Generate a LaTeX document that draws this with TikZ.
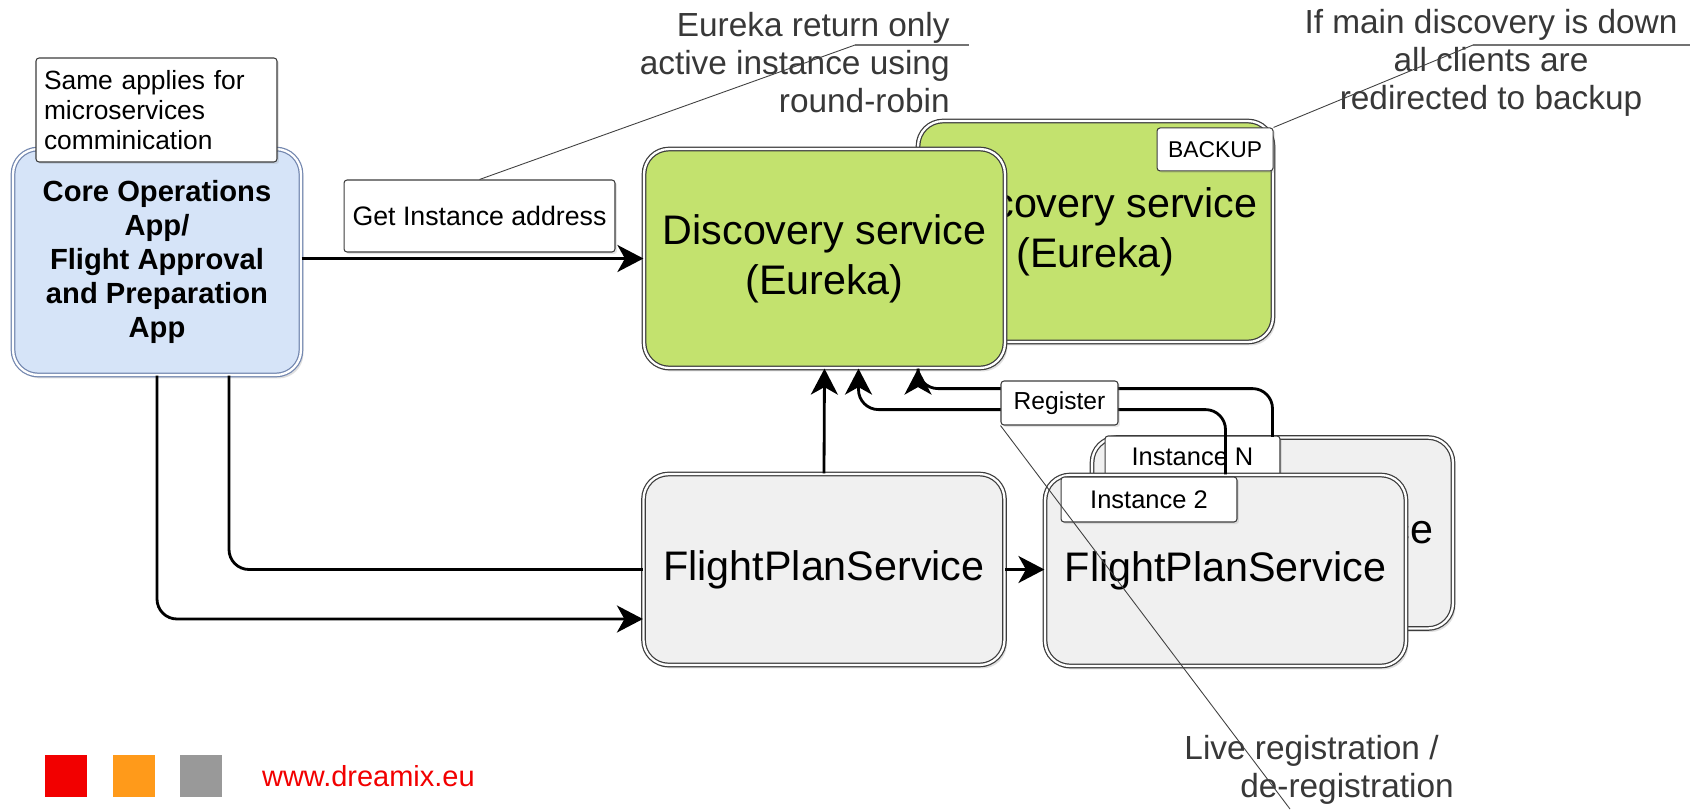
\documentclass[tikz,border=0pt]{standalone}
\usepackage{fontspec}
\setmainfont{Liberation Sans}
\usetikzlibrary{arrows.meta,positioning,calc,shadows}
\definecolor{coreblue}{RGB}{214,228,248}
\definecolor{coreedge}{RGB}{115,135,175}
\definecolor{discgreen}{RGB}{195,226,110}
\definecolor{svcgrey}{RGB}{240,240,240}
\definecolor{edgegrey}{RGB}{60,60,60}
\definecolor{dmxred}{RGB}{242,0,0}
\definecolor{dmxorange}{RGB}{255,154,26}
\definecolor{dmxgrey}{RGB}{153,153,153}
\tikzset{
  >={Stealth[length=5.2mm, width=5.4mm, inset=1.5mm]},
  box/.style={draw=edgegrey, double=white, double distance=1.3pt, line width=0.7pt, rounded corners=5mm, align=center, inner sep=0pt, drop shadow={opacity=0.25, shadow xshift=0.5mm, shadow yshift=-0.7mm}},
  app/.style={box, draw=coreedge, fill=coreblue, minimum width=5.76cm, minimum height=4.52cm, font=\bfseries\fontsize{16.6}{19.4}\selectfont},
  disco/.style={box, fill=discgreen, minimum width=7.2cm, minimum height=4.4cm, font=\fontsize{23.5}{28.5}\selectfont},
  svc/.style={box, fill=svcgrey, minimum width=7.22cm, minimum height=3.82cm, font=\fontsize{23.5}{28.5}\selectfont},
  tag/.style={draw=edgegrey, fill=white, rounded corners=0.6mm, line width=0.6pt, inner sep=0pt, minimum height=0.86cm, font=\fontsize{14.5}{17}\selectfont, drop shadow={opacity=0.2, shadow xshift=0.4mm, shadow yshift=-0.4mm}},
  remark/.style={align=right, inner sep=0pt, text=black!78, font=\fontsize{19}{21.6}\selectfont},
  flow/.style={->, line width=1.6pt, rounded corners=4mm},
  leader/.style={line width=0.5pt, black!75},
  underl/.style={line width=1pt, black!55},
  sq/.style={minimum size=8.4mm, inner sep=0pt},
}
\begin{document}
\begin{tikzpicture}[x=0.02cm, y=-0.02cm]
  \useasboundingbox[fill=white] (0,0) rectangle (1698,809);
  \node[app] (core) at (157,262) {Core Operations\\App/\\Flight Approval\\and Preparation\\App};
  \node[tag, text width=4.5cm, align=left, inner sep=1.6mm, minimum height=2.08cm, font=\fontsize{15}{17.2}\selectfont] (note) at (156.5,110) {Same applies for\\microservices\\comminication};
  \node[disco, minimum width=7.1cm, minimum height=4.42cm] (backup) at (1095.5,231.5) {Discovery service\\(Eureka)};
  \node[tag, anchor=north east, minimum width=2.32cm, font=\fontsize{13}{15}\selectfont] (backuptag) at ($(backup.north east)+(0,7)$) {BACKUP};
  \node[disco, minimum width=7.22cm, minimum height=4.38cm] (disc) at (824.5,258.5) {Discovery service\\(Eureka)};
  \node[tag, minimum width=5.42cm, minimum height=1.44cm, font=\fontsize{15.2}{18}\selectfont] (getaddr) at (479.5,216) {Get Instance address};
  \node[svc] (fps) at (824,569.5) {FlightPlanService};
  \node[svc] (fpsn) at (1272.5,533) {FlightPlanService};
  \node[tag, minimum width=3.5cm, minimum height=0.82cm] (instn) at (1192.5,456.5) {Instance N};
  \node[svc] (fpstwo) at (1225.5,570.5) {FlightPlanService};
  \node[tag, minimum width=3.52cm, minimum height=0.9cm] (insttwo) at (1149,499.5) {Instance 2};
  \draw[flow] (core.east |- disc.west) -- (disc.west);
  \draw[flow] (core.south) |- ($(fps.west)+(0,49.5)$);
  \draw[flow, -] ($(core.south)+(72,0)$) |- (fps.west);
  \draw[flow] (fps.east) -- (fps.east -| fpstwo.west);
  \draw[flow] (fps.north) -- (disc.south);
  \draw[flow] (fpstwo.north) |- ($(disc.south)+(34,41)$) -- ($(disc.south)+(34,0)$);
  \draw[flow] (fpsn.north) |- ($(disc.south)+(93.5,20)$) -- ($(disc.south)+(93.5,0)$);
  \node[tag, minimum width=2.34cm, minimum height=0.88cm, font=\fontsize{14}{16}\selectfont] (reg) at (1059.5,403) {Register};
  \node[remark, anchor=east] (eureka) at (950,63) {Eureka return only\\active instance using\\round-robin};
  \draw[underl] ($(eureka.east)+(-95,-18)$) coordinate (eurekaul) -- ++(114,0);
  \draw[leader] (eurekaul) -- (getaddr.north);
  \node[remark, align=center] (redirect) at (1491,63) {If main discovery is down\\all clients are\\redirected to backup};
  \draw[underl] ($(redirect.center)+(-18,-18)$) coordinate (redirectul) -- ++(217,0);
  \draw[leader] (redirectul) -- (backuptag.north east);
  \node[remark, anchor=east] (live) at (1454,770) {Live registration /\hspace*{3mm}\\de-registration};
  \coordinate (liveend) at (1290,809);
  \draw[leader] (reg.south west) -- (liveend);
  \node[sq, fill=dmxred] (sqred) at (66,776) {};
  \node[sq, fill=dmxorange, right=5mm of sqred] (sqorange) {};
  \node[sq, fill=dmxgrey, right=5mm of sqorange] (sqgrey) {};
  \node[right=7.8mm of sqgrey, inner sep=0pt, text=dmxred, font=\fontsize{16.5}{19}\selectfont] (web) {www.dreamix.eu};
\end{tikzpicture}
\end{document}
